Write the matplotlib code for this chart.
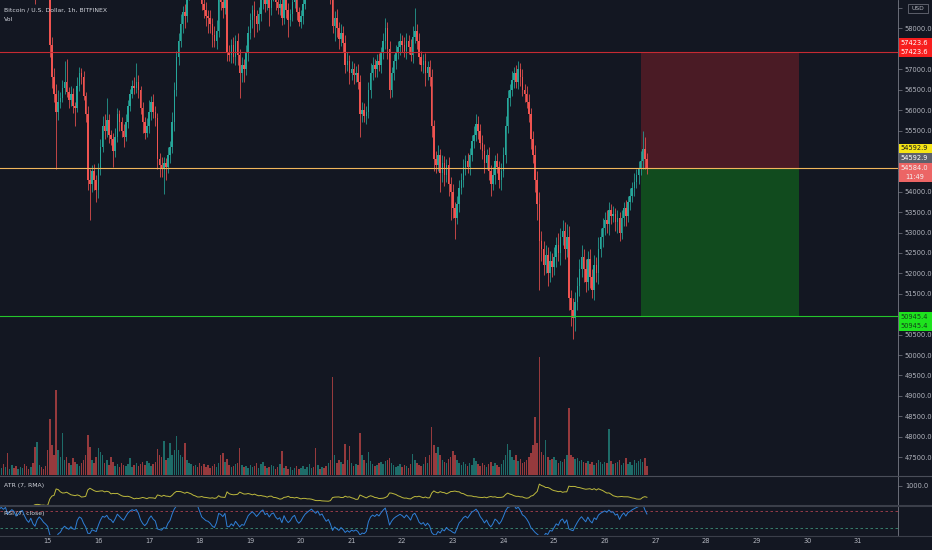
import numpy as np
import matplotlib
matplotlib.use("Agg")
import matplotlib.pyplot as plt
from matplotlib.patches import Rectangle
from matplotlib.lines import Line2D

W, H = 932, 550
BG = '#131722'
UP = '#26a69a'
DOWN = '#ef5350'
TXT = '#b2b5be'

# hourly closes, one list per day
# (the 14th starts at 01:00, the 26th ends at 20:00)
first_open = 59050
close_14 = [59150, 59300, 59250, 59400, 59200, 59350, 59500, 59450, 59300, 59400, 59550, 59600,
            59450, 59300, 59200, 59350, 59100, 58950, 59200, 59350, 59250, 59100, 59000]
close_15 = [58850, 57600, 56800, 56400, 55950, 56200, 56300, 56550, 56700, 56450, 56250, 56400,
            56100, 56050, 56600, 56900, 56800, 56350, 55900, 54300, 54200, 54500, 54300, 54050]
close_16 = [54550, 55100, 55600, 55500, 55750, 55400, 55300, 55000, 55350, 55900, 55700, 55500,
            55350, 55700, 56100, 56400, 56600, 56550, 56700, 56500, 56050, 55700, 55450, 55600]
close_17 = [55950, 56200, 55950, 55800, 54800, 54650, 54550, 54700, 54600, 54900, 55100, 55700,
            56500, 57300, 57700, 58100, 58400, 58300, 58900, 59100, 59300, 59200, 59400, 59300]
close_18 = [59000, 58600, 58450, 58300, 58250, 58100, 57850, 57700, 57950, 58700, 58650, 58500,
            58800, 57400, 57350, 57600, 57300, 57700, 57350, 56900, 57100, 57000, 57400, 57900]
close_19 = [58200, 58450, 58300, 58100, 58350, 58700, 58900, 58600, 58750, 58500, 58800, 58900,
            58650, 58500, 58600, 58250, 58800, 58450, 58200, 58350, 58650, 58800, 58400, 58150]
close_20 = [58300, 58600, 58900, 59100, 59300, 59500, 59400, 59300, 59500, 59300, 59400, 59200,
            59000, 59100, 58800, 58050, 58250, 58000, 57750, 57900, 57650, 57100, 57200, 56900]
close_21 = [57000, 56850, 56900, 56700, 55900, 56000, 55850, 55950, 56500, 56900, 57100, 57000,
            57200, 57100, 57400, 57700, 58000, 57500, 56500, 56900, 57200, 57400, 57550, 57700]
close_22 = [57600, 57450, 57700, 57550, 57350, 57800, 57950, 57700, 57300, 57100, 57200, 56900,
            57050, 56800, 55600, 54800, 54650, 54900, 54450, 54700, 54400, 54650, 54200, 54000]
close_23 = [53600, 53350, 53700, 54100, 54300, 54600, 54750, 54600, 54900, 55250, 55400, 55650,
            55500, 55200, 55000, 54700, 54900, 54500, 54200, 54400, 54750, 54600, 54300, 54500]
close_24 = [54900, 55600, 56300, 56500, 56750, 56900, 56700, 57000, 56800, 56500, 56400, 56200,
            55900, 55300, 54900, 54300, 53700, 52800, 52600, 52200, 52450, 52000, 52300, 52150]
close_25 = [52400, 52700, 52500, 52900, 53050, 52600, 52900, 51400, 51100, 50900, 51300, 51700,
            52100, 52400, 52100, 51800, 52350, 51900, 51600, 52200, 52000, 52600, 52900, 53100]
close_26 = [53300, 53200, 53550, 53400, 53450, 53250, 53350, 53000, 53350, 53600, 53400, 53750,
            53900, 54100, 54250, 54400, 54550, 54750, 55050, 54800, 54584]

# upper / lower wick beyond the body, USD
wick_up_14 = [120, 90, 150, 110, 80, 130, 100, 160, 90, 120, 140, 110, 100, 130, 90, 120, 150, 110, 130, 100, 90, 140, 120]
wick_dn_14 = [100, 130, 90, 150, 110, 80, 120, 100, 140, 90, 110, 130, 150, 100, 120, 90, 110, 350, 100, 120, 90, 130, 110]
wick_up_15 = [150, 200, 180, 220, 250, 300, 150, 200, 500, 550, 120, 180, 150, 100, 200, 150, 120, 150, 100, 200, 250, 150, 180, 120]
wick_dn_15 = [120, 300, 250, 200, 1400, 200, 150, 100, 150, 120, 200, 150, 180, 450, 100, 120, 150, 100, 200, 250, 900, 200, 250, 300]
wick_up_16 = [150, 200, 250, 300, 550, 150, 120, 150, 200, 150, 100, 120, 150, 200, 150, 120, 150, 200, 450, 150, 100, 150, 120, 200]
wick_dn_16 = [200, 150, 120, 200, 150, 200, 150, 400, 150, 120, 200, 150, 250, 100, 150, 120, 100, 150, 120, 200, 150, 250, 150, 120]
wick_up_17 = [300, 150, 200, 150, 120, 150, 200, 150, 120, 200, 150, 250, 200, 150, 200, 250, 150, 200, 250, 200, 150, 200, 150, 200]
wick_dn_17 = [150, 200, 150, 200, 250, 300, 200, 600, 300, 150, 200, 150, 200, 150, 200, 150, 200, 300, 150, 200, 250, 150, 200, 150]
wick_up_18 = [150, 200, 150, 200, 150, 200, 150, 200, 250, 200, 150, 200, 150, 250, 200, 150, 200, 150, 200, 150, 200, 150, 200, 150]
wick_dn_18 = [200, 150, 200, 250, 350, 200, 300, 150, 200, 150, 200, 250, 150, 200, 150, 200, 150, 200, 250, 600, 200, 300, 150, 200]
wick_up_19 = [180, 130, 220, 150, 170, 240, 160, 120, 200, 140, 230, 170, 150, 190, 120, 160, 210, 140, 180, 130, 170, 220, 150, 120]
wick_dn_19 = [150, 200, 500, 180, 130, 160, 220, 190, 140, 450, 170, 130, 200, 150, 180, 160, 140, 200, 400, 130, 170, 150, 200, 100]
wick_up_20 = [160, 220, 180, 140, 200, 170, 130, 190, 150, 210, 160, 140, 180, 200, 150, 300, 180, 220, 160, 200, 150, 180, 220, 160]
wick_dn_20 = [140, 180, 120, 160, 200, 150, 190, 130, 170, 150, 200, 160, 140, 180, 200, 150, 350, 200, 250, 180, 220, 200, 150, 250]
wick_up_21 = [200, 150, 180, 220, 150, 200, 180, 150, 200, 250, 200, 150, 180, 200, 150, 200, 250, 150, 200, 150, 180, 200, 150, 180]
wick_dn_21 = [150, 200, 150, 180, 550, 200, 150, 180, 150, 200, 150, 180, 200, 150, 180, 150, 200, 250, 200, 180, 150, 200, 150, 200]
wick_up_22 = [150, 200, 180, 150, 200, 250, 550, 150, 200, 150, 180, 200, 150, 180, 200, 150, 200, 250, 150, 200, 180, 150, 200, 150]
wick_dn_22 = [180, 150, 200, 180, 150, 200, 150, 200, 180, 150, 200, 300, 150, 200, 250, 300, 200, 150, 450, 200, 250, 150, 300, 700]
wick_up_23 = [200, 150, 200, 180, 150, 200, 150, 200, 180, 150, 200, 250, 200, 150, 200, 180, 150, 200, 150, 200, 150, 200, 150, 200]
wick_dn_23 = [250, 500, 150, 200, 150, 180, 200, 150, 200, 150, 180, 150, 200, 150, 200, 250, 150, 200, 300, 150, 200, 150, 200, 250]
wick_up_24 = [200, 250, 200, 150, 200, 150, 200, 200, 150, 200, 150, 180, 200, 150, 200, 250, 200, 300, 250, 200, 250, 200, 250, 200]
wick_dn_24 = [150, 200, 150, 200, 150, 200, 150, 180, 200, 150, 200, 150, 200, 250, 200, 300, 400, 1200, 300, 250, 200, 300, 200, 250]
wick_up_25 = [250, 200, 300, 200, 250, 200, 300, 250, 200, 300, 250, 200, 250, 300, 200, 250, 200, 250, 200, 250, 200, 300, 200, 250]
wick_dn_25 = [200, 250, 200, 300, 200, 250, 200, 300, 400, 500, 300, 200, 250, 200, 300, 250, 200, 250, 200, 250, 200, 250, 200, 250]
wick_up_26 = [200, 250, 200, 150, 200, 150, 200, 150, 200, 150, 200, 150, 200, 150, 200, 150, 200, 250, 450, 300, 150]
wick_dn_26 = [150, 200, 250, 200, 150, 200, 250, 200, 150, 200, 250, 150, 200, 150, 200, 150, 200, 150, 200, 250, 150]

# hourly volume (BTC)
vol_14 = [90, 70, 110, 80, 220, 60, 100, 70, 90, 60, 80, 70, 110, 90, 60, 80, 120, 280, 330, 100, 80, 60, 90]
vol_15 = [250, 560, 300, 200, 850, 250, 180, 420, 150, 180, 120, 100, 170, 130, 110, 90, 120, 150, 200, 400, 280, 150, 120, 180]
vol_16 = [270, 230, 200, 120, 150, 100, 180, 130, 90, 110, 80, 120, 100, 90, 110, 170, 80, 100, 120, 90, 110, 130, 100, 140]
vol_17 = [120, 90, 110, 130, 260, 200, 180, 340, 150, 170, 320, 200, 250, 390, 250, 200, 180, 320, 150, 120, 110, 90, 100, 80]
vol_18 = [120, 90, 110, 80, 100, 70, 90, 110, 80, 120, 200, 220, 130, 160, 100, 80, 90, 110, 120, 270, 100, 80, 90, 70]
vol_19 = [100, 80, 90, 120, 70, 110, 130, 90, 70, 80, 100, 90, 60, 80, 110, 240, 70, 90, 60, 80, 50, 70, 90, 60]
vol_20 = [70, 90, 60, 80, 110, 70, 80, 270, 100, 60, 80, 70, 90, 120, 150, 980, 200, 120, 150, 130, 110, 310, 150, 290]
vol_21 = [120, 90, 110, 100, 420, 200, 150, 120, 230, 140, 110, 90, 100, 120, 130, 110, 140, 150, 170, 120, 100, 80, 90, 110]
vol_22 = [80, 100, 90, 70, 110, 210, 150, 120, 100, 90, 110, 180, 120, 200, 480, 300, 220, 280, 200, 150, 130, 120, 160, 180]
vol_23 = [240, 200, 150, 120, 100, 130, 110, 90, 120, 100, 170, 140, 110, 90, 120, 100, 80, 110, 130, 90, 120, 100, 80, 110]
vol_24 = [150, 200, 310, 250, 180, 150, 200, 140, 160, 120, 130, 150, 180, 220, 300, 580, 320, 1180, 230, 200, 350, 180, 150, 160]
vol_25 = [180, 150, 120, 140, 130, 160, 200, 670, 200, 180, 160, 170, 140, 150, 130, 120, 140, 110, 130, 100, 120, 150, 130, 110]
vol_26 = [130, 120, 460, 140, 110, 120, 130, 150, 100, 120, 170, 110, 130, 100, 150, 120, 140, 160, 130, 170, 90]

stop_price = 57423.6
entry_price = 54584.0
target_price = 50945.4
last_price = 54592.9
day_labels = list(range(15, 32))
# axis prices that the price tags hide
hidden_ticks = [58500, 57500, 55000, 54500, 51000]

closes_by_day = [close_14, close_15, close_16, close_17, close_18, close_19, close_20,
                 close_21, close_22, close_23, close_24, close_25, close_26]
ups_by_day = [wick_up_14, wick_up_15, wick_up_16, wick_up_17, wick_up_18, wick_up_19, wick_up_20,
              wick_up_21, wick_up_22, wick_up_23, wick_up_24, wick_up_25, wick_up_26]
dns_by_day = [wick_dn_14, wick_dn_15, wick_dn_16, wick_dn_17, wick_dn_18, wick_dn_19, wick_dn_20,
              wick_dn_21, wick_dn_22, wick_dn_23, wick_dn_24, wick_dn_25, wick_dn_26]
vols_by_day = [vol_14, vol_15, vol_16, vol_17, vol_18, vol_19, vol_20,
               vol_21, vol_22, vol_23, vol_24, vol_25, vol_26]

closes = np.array(sum(closes_by_day, []), float)
wick_up = np.array(sum(ups_by_day, []), float)
wick_dn = np.array(sum(dns_by_day, []), float)
volume = np.array(sum(vols_by_day, []), float)
assert len(closes) == len(wick_up) == len(wick_dn) == len(volume) == 308

opens = np.concatenate([[first_open], closes[:-1]])
highs = np.maximum(opens, closes) + wick_up
lows = np.minimum(opens, closes) - wick_dn
t = np.arange(1, len(closes) + 1)  # hours since the 14th, 00:00


def rma(x, n):
    out = np.empty(len(x))
    out[0] = np.mean(x[:n])
    for i in range(1, len(x)):
        out[i] = (x[i] + (n - 1) * out[i - 1]) / n
    return out


# ATR (7, RMA)
prev_close = np.concatenate([[first_open], closes[:-1]])
tr = np.maximum(highs - lows, np.maximum(abs(highs - prev_close), abs(lows - prev_close)))
atr = rma(tr, 7)

# RSI (7, close)
diff = np.diff(np.concatenate([[first_open], closes]))
rs = rma(np.clip(diff, 0, None), 7) / rma(np.clip(-diff, 0, None), 7)
rsi = 100 - 100 / (1 + rs)

# ---- figure ----
fig = plt.figure(figsize=(W / 100, H / 100), dpi=100, facecolor=BG)
pw = 898 / W
px_per_h = 2.11
xlim = (24 - 47.7 / px_per_h, 24 + (898 - 47.7) / px_per_h)

vax = fig.add_axes([0, 75 / H, pw, 475 / H])
ax = fig.add_axes([0, 75 / H, pw, 475 / H])
atr_ax = fig.add_axes([0, 45 / H, pw, 29 / H])
rsi_ax = fig.add_axes([0, 15 / H, pw, 29 / H])

vax.set_facecolor(BG)
ax.set_zorder(2)
ax.patch.set_alpha(0)
for a in (ax, atr_ax, rsi_ax, vax):
    a.set_xlim(*xlim)
    for s in a.spines.values():
        s.set_visible(False)
    a.set_xticks([])
for a in (atr_ax, rsi_ax):
    a.set_facecolor(BG)
for a in (ax, atr_ax, rsi_ax):
    a.spines['right'].set_visible(True)
    a.spines['right'].set_color('#787b86')
    a.spines['right'].set_linewidth(0.6)
    a.yaxis.tick_right()
    a.tick_params(axis='y', length=3, width=0.5, color='#787b86', labelcolor=TXT,
                  labelsize=4.8, pad=2)

colors = np.where(closes >= opens, UP, DOWN)

# volume
vax.bar(t, volume, width=0.72, color=colors, alpha=0.6, linewidth=0)
vax.set_ylim(0, 4750)
vax.set_yticks([])

# candles
ax.set_ylim(47061, 58698)
ax.vlines(t, lows, highs, colors=colors, linewidth=0.55, zorder=3)
body = np.maximum(abs(closes - opens), 20)
ax.bar(t, body, bottom=np.minimum(opens, closes), width=0.72, color=colors,
       linewidth=0, zorder=4)

ticks = np.arange(47500, 58501, 500)
ax.set_yticks(ticks)
ax.set_yticklabels(["" if v in hidden_ticks else f"{v:.1f}" for v in ticks])

# long/short position box
box_start, box_end = 305, 380
ax.add_patch(Rectangle((box_start, entry_price), box_end - box_start, stop_price - entry_price,
                       facecolor='#4a1b25', edgecolor='none', zorder=1))
ax.add_patch(Rectangle((box_start, target_price), box_end - box_start, entry_price - target_price,
                       facecolor='#114b1e', edgecolor='none', zorder=1))

ax.axhline(stop_price, color='#c62a33', linewidth=0.8, zorder=5)
ax.axhline(entry_price, color='#f0b65c', linewidth=0.8, zorder=5)
ax.axhline(target_price, color='#25c62b', linewidth=0.8, zorder=5)

# ATR pane
atr_ax.plot(t, atr, color='#bdb93d', linewidth=0.7)
atr_ax.set_ylim(400, 1300)
atr_ax.set_yticks([1000])
atr_ax.set_yticklabels(['1000.0'])

# RSI pane
rsi_ax.plot(t, rsi, color='#2f7fd6', linewidth=0.7, zorder=3)
rsi_ax.axhline(70, color='#a8414e', linewidth=0.6, dashes=(3, 3))
rsi_ax.axhline(30, color='#3e8f76', linewidth=0.6, dashes=(3, 3))
rsi_ax.set_ylim(13, 81)
rsi_ax.set_yticks([])
rsi_ax.set_xticks([(d - 14) * 24 for d in day_labels])
rsi_ax.set_xticklabels([str(d) for d in day_labels])
rsi_ax.tick_params(axis='x', length=0, pad=2.5, labelsize=4.8, labelcolor=TXT)

# pane separators
for y, lw, c in [(475.5, 0.8, '#4a4e59'), (505.5, 1.5, '#3b3f4a'), (535.5, 0.8, '#3b3f4a')]:
    fig.add_artist(Line2D([0, 1], [1 - y / H, 1 - y / H], transform=fig.transFigure,
                          color=c, linewidth=lw, zorder=6))


def ypx(price):
    return H - ax.transData.transform((xlim[0], price))[1]


def tag(yc, h, fc, texts, tc):
    fig.add_artist(Rectangle((898.5 / W, 1 - (yc + h / 2) / H), 33.5 / W, h / H,
                             transform=fig.transFigure, facecolor=fc, edgecolor='none', zorder=10))
    for ty, s in texts:
        fig.text(914.5 / W, 1 - ty / H, s, ha='center', va='center', fontsize=4.8,
                 color=tc, zorder=11)


ys = ypx(stop_price)
tag(ys - 4.5, 19.5, '#f71e1e', [(ys - 9, f"{stop_price:.1f}"), (ys, f"{stop_price:.1f}")], 'white')
ye = ypx(entry_price)
tag(ye - 19.5, 9.5, '#f5e414', [(ye - 19.5, f"{last_price:.1f}")], '#131722')
tag(ye - 10, 9.5, '#5d606b', [(ye - 10, f"{last_price:.1f}")], 'white')
tag(ye + 4.5, 19, '#ec6565', [(ye, f"{entry_price:.1f}"), (ye + 9, "11:49")], '#f3f3f3')
yt = ypx(target_price)
tag(yt + 5.5, 19, '#1ee31e', [(yt + 0.5, f"{target_price:.1f}"), (yt + 10, f"{target_price:.1f}")],
    '#12401a')

# currency badge at the top of the price scale
fig.add_artist(Rectangle((908 / W, 1 - 13 / H), 20 / W, 9 / H, transform=fig.transFigure,
                         facecolor=BG, edgecolor='#787b86', linewidth=0.5, zorder=10))
fig.text(918 / W, 1 - 8.5 / H, 'USD', ha='center', va='center', fontsize=4.3, color=TXT, zorder=11)

# legends
fig.text(4 / W, 1 - 10 / H, 'Bitcoin / U.S. Dollar, 1h, BITFINEX', fontsize=4.4,
         color='#d1d4dc', va='center')
fig.text(4 / W, 1 - 19.5 / H, 'Vol', fontsize=4.4, color='#d1d4dc', va='center')
fig.text(4 / W, 1 - 485.5 / H, 'ATR (7, RMA)', fontsize=4.4, color='#d1d4dc', va='center', zorder=7)
fig.text(4 / W, 1 - 514 / H, 'RSI (7, close)', fontsize=4.4, color='#d1d4dc', va='center', zorder=7)

fig.savefig('out.png', dpi=100, facecolor=BG)
